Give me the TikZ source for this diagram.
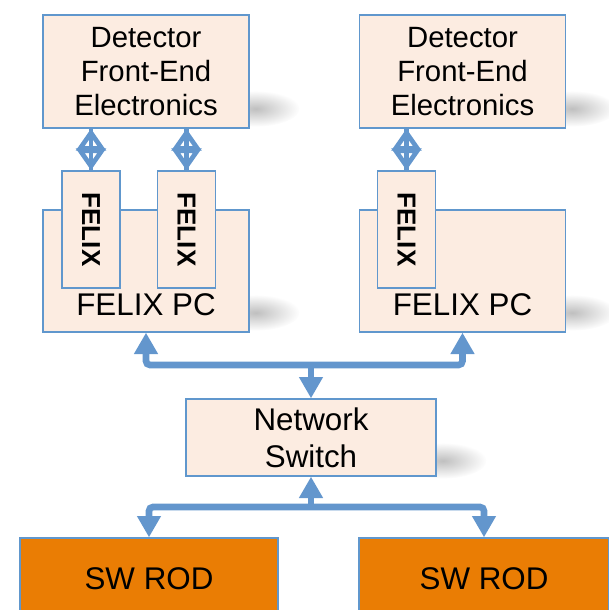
\documentclass[tikz,border=0pt]{standalone}
\usepackage{fontspec}
\setmainfont{Liberation Sans}
\usetikzlibrary{arrows.meta, positioning, calc, fadings, backgrounds}
\definecolor{boxfill}{RGB}{252,236,225}
\definecolor{boxline}{RGB}{96,151,205}
\definecolor{busblue}{RGB}{99,150,205}
\definecolor{rodorange}{RGB}{234,125,4}
\tikzfading[name=softfade, inner color=transparent!0, outer color=transparent!100]

% soft shadow at the lower right of a box
\newcommand{\boxshadow}[2]{%
    \fill[black, opacity=0.25, path fading=softfade]
        ($(#1.south east)+(6,-#2)$) ellipse (44 and 18);
}

\begin{document}
\begin{tikzpicture}[
    x=0.75pt, y=-0.75pt,
    febox/.style={draw=boxline, line width=1pt, fill=boxfill, minimum width=154.5pt, minimum height=84.75pt, align=center, inner sep=0pt, font=\fontsize{22}{25.5}\selectfont},
    pcbox/.style={draw=boxline, line width=1pt, fill=boxfill, minimum width=154.5pt, minimum height=91.5pt, inner sep=0pt},
    cardbox/.style={draw=boxline, line width=1pt, fill=boxfill, minimum width=43.5pt, minimum height=87.75pt, inner sep=0pt},
    swbox/.style={draw=boxline, line width=1pt, fill=boxfill, minimum width=187.5pt, minimum height=57.75pt, align=center, inner sep=0pt, font=\fontsize{23.5}{28}\selectfont},
    rodbox/.style={draw=boxline, line width=1pt, fill=rodorange, minimum height=61.5pt, inner sep=0pt, font=\fontsize{23.5}{28}\selectfont},
    pclabel/.style={font=\fontsize{23.5}{28}\selectfont, anchor=base, yshift=12.75pt},
    cardtext/.style={font=\fontsize{19.5}{22}\selectfont\bfseries, rotate=-90, inner sep=0pt},
    bus/.style={draw=busblue, line width=5pt, rounded corners=3pt, {Triangle[width=17pt, length=16pt]}-{Triangle[width=17pt, length=16pt]}},
    busin/.style={draw=busblue, line width=5pt, -{Triangle[width=17pt, length=16pt]}},
    link/.style={draw=busblue, line width=3.5pt, {Triangle[open, width=22pt, length=16.5pt]}-{Triangle[open, width=22pt, length=16.5pt]}, postaction={draw=busblue, line width=3.5pt, arrows=-}},
]
    \useasboundingbox (0,0) rectangle (609,610);

    % Front-end boxes
    \node[febox, text depth=0pt, yshift=-4.5pt] (feA) at (146,65.5) {Detector\\Front-End\\Electronics};
    \node[febox, text depth=0pt, yshift=-4.5pt] (feB) at (462.5,65.5) {Detector\\Front-End\\Electronics};

    % FELIX PCs
    \node[pcbox, label={[pclabel]south:FELIX PC}] (pcA) at (146,271) {};
    \node[pcbox, label={[pclabel]south:FELIX PC}] (pcB) at (462.5,271) {};

    % Network switch
    \node[swbox] (sw) at (311,437.5) {Network\\Switch};

    % SW RODs
    \node[rodbox, minimum width=193.5pt] (rodA) at (149,579) {SW ROD};
    \node[rodbox, minimum width=187.5pt] (rodB) at (484,579) {SW ROD};

    % shadows, behind the boxes
    \begin{scope}[on background layer]
        \boxshadow{feA}{20}
        \boxshadow{feB}{20}
        \boxshadow{pcA}{20}
        \boxshadow{pcB}{20}
        \boxshadow{sw}{16}
        \boxshadow{rodA}{-12}
    \end{scope}

    % FELIX cards
    \node[cardbox] (cardA) at (91,229.5) {};
    \node[cardbox] (cardB) at (186.5,229.5) {};
    \node[cardbox] (cardC) at (406.5,229.5) {};
    \node[cardtext] at (cardA) {FELIX};
    \node[cardtext] at (cardB) {FELIX};
    \node[cardtext] at (cardC) {FELIX};

    % Links front-end to FELIX
    \draw[link] (cardA.north |- feA.south) -- (cardA.north);
    \draw[link] (cardB.north |- feA.south) -- (cardB.north);
    \draw[link] (cardC.north |- feB.south) -- (cardC.north);

    % Buses
    \coordinate (upper) at (311,365);
    \coordinate (lower) at (311,507);
    \draw[bus] (pcA.south) |- (upper) -| (pcB.south);
    \draw[busin] (upper) -- (sw.north);
    \draw[bus] (rodA.north) |- (lower) -| (rodB.north);
    \draw[busin] (lower) -- (sw.south);
\end{tikzpicture}
\end{document}
